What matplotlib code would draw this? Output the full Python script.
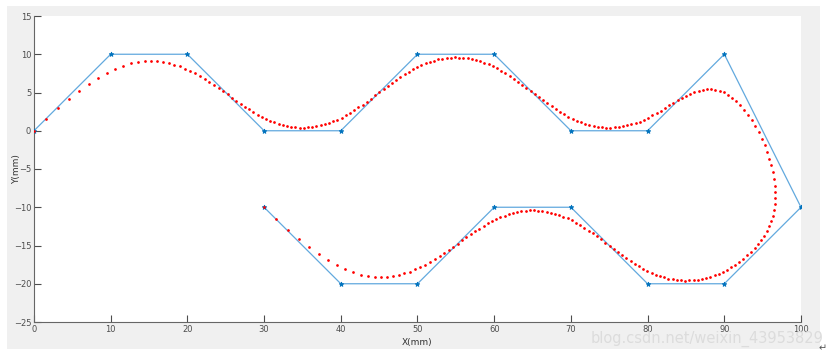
import numpy as np
import matplotlib
matplotlib.use("Agg")
import matplotlib.pyplot as plt
from matplotlib.patches import Rectangle

# control polygon (mm)
ctrl_x = [0, 10, 20, 30, 40, 50, 60, 70, 80, 90, 100, 90, 80, 70, 60, 50, 40, 30]
ctrl_y = [0, 10, 10, 0, 0, 10, 10, 0, 0, 10, -10, -20, -20, -10, -10, -20, -20, -10]
degree = 3
n_samples = 275

x_ticks = [0, 10, 20, 30, 40, 50, 60, 70, 80, 90, 100]
y_ticks = [-25, -20, -15, -10, -5, 0, 5, 10, 15]


def clamped_knots(n_ctrl: int, k: int) -> np.ndarray:
    inner = np.arange(1, n_ctrl - k)
    return np.concatenate([np.zeros(k + 1), inner, np.full(k + 1, n_ctrl - k)]).astype(float)


def bspline(px, py, k, n):
    P = np.column_stack([px, py]).astype(float)
    knots = clamped_knots(len(P), k)
    out = []
    for u in np.linspace(knots[0], knots[-1], n):
        # de Boor
        s = np.searchsorted(knots, u, side="right") - 1
        s = min(s, len(P) - 1)
        d = [P[j + s - k].copy() for j in range(k + 1)]
        for r in range(1, k + 1):
            for j in range(k, r - 1, -1):
                i = j + s - k
                den = knots[i + k + 1 - r] - knots[i]
                a = 0.0 if den == 0 else (u - knots[i]) / den
                d[j] = (1 - a) * d[j - 1] + a * d[j]
        out.append(d[k])
    out = np.array(out)
    return out[:, 0], out[:, 1]


W, H = 835, 357
fig = plt.figure(figsize=(W / 100, H / 100), dpi=100)
fig.patch.set_facecolor("white")
bg = Rectangle((7 / W, 1 - 349 / H), (820 - 7) / W, (349 - 6) / H,
               transform=fig.transFigure, facecolor="#f0f0f0",
               edgecolor="none", zorder=-10)
fig.patches.append(bg)

ax = fig.add_axes([34 / W, 1 - 322 / H, (801 - 34) / W, (322 - 16) / H])
ax.set_zorder(1)
ax.set_facecolor("white")

cx, cy = bspline(ctrl_x, ctrl_y, degree, n_samples)
ax.plot(ctrl_x, ctrl_y, "-", color="#62a9de", lw=0.9, zorder=2)
ax.plot(ctrl_x, ctrl_y, "*", color="#0072bd", ms=3.5, mew=0.6, zorder=3)
ax.plot(cx, cy, ".", color="red", ms=1.9, zorder=4)

ax.set_xlim(0, 100)
ax.set_ylim(-25, 15)
ax.set_xticks(x_ticks)
ax.set_yticks(y_ticks)
ax.tick_params(direction="in", length=5, width=0.8, colors="#4d4d4d",
               labelsize=6, pad=2)
for side in ("top", "right"):
    ax.spines[side].set_visible(False)
for side in ("left", "bottom"):
    ax.spines[side].set_color("#666666")
    ax.spines[side].set_linewidth(0.8)
ax.set_xlabel("X(mm)", fontsize=6.5, color="#333333")
ax.set_ylabel("Y(mm)", fontsize=6.5, color="#333333")
ax.xaxis.set_label_coords(0.5, -0.052)
ax.yaxis.set_label_coords(-0.017, 0.5)

fig.text(823 / W, 1 - 339 / H, "blog.csdn.net/weixin_43953829", ha="right",
         va="center", fontsize=10.5, color="#dcdcdc", zorder=5)
fig.text(823 / W, 1 - 348 / H, "\u21b5", ha="center", va="center",
         fontsize=7, color="#555555", zorder=5)

fig.savefig("out.png", dpi=100)
